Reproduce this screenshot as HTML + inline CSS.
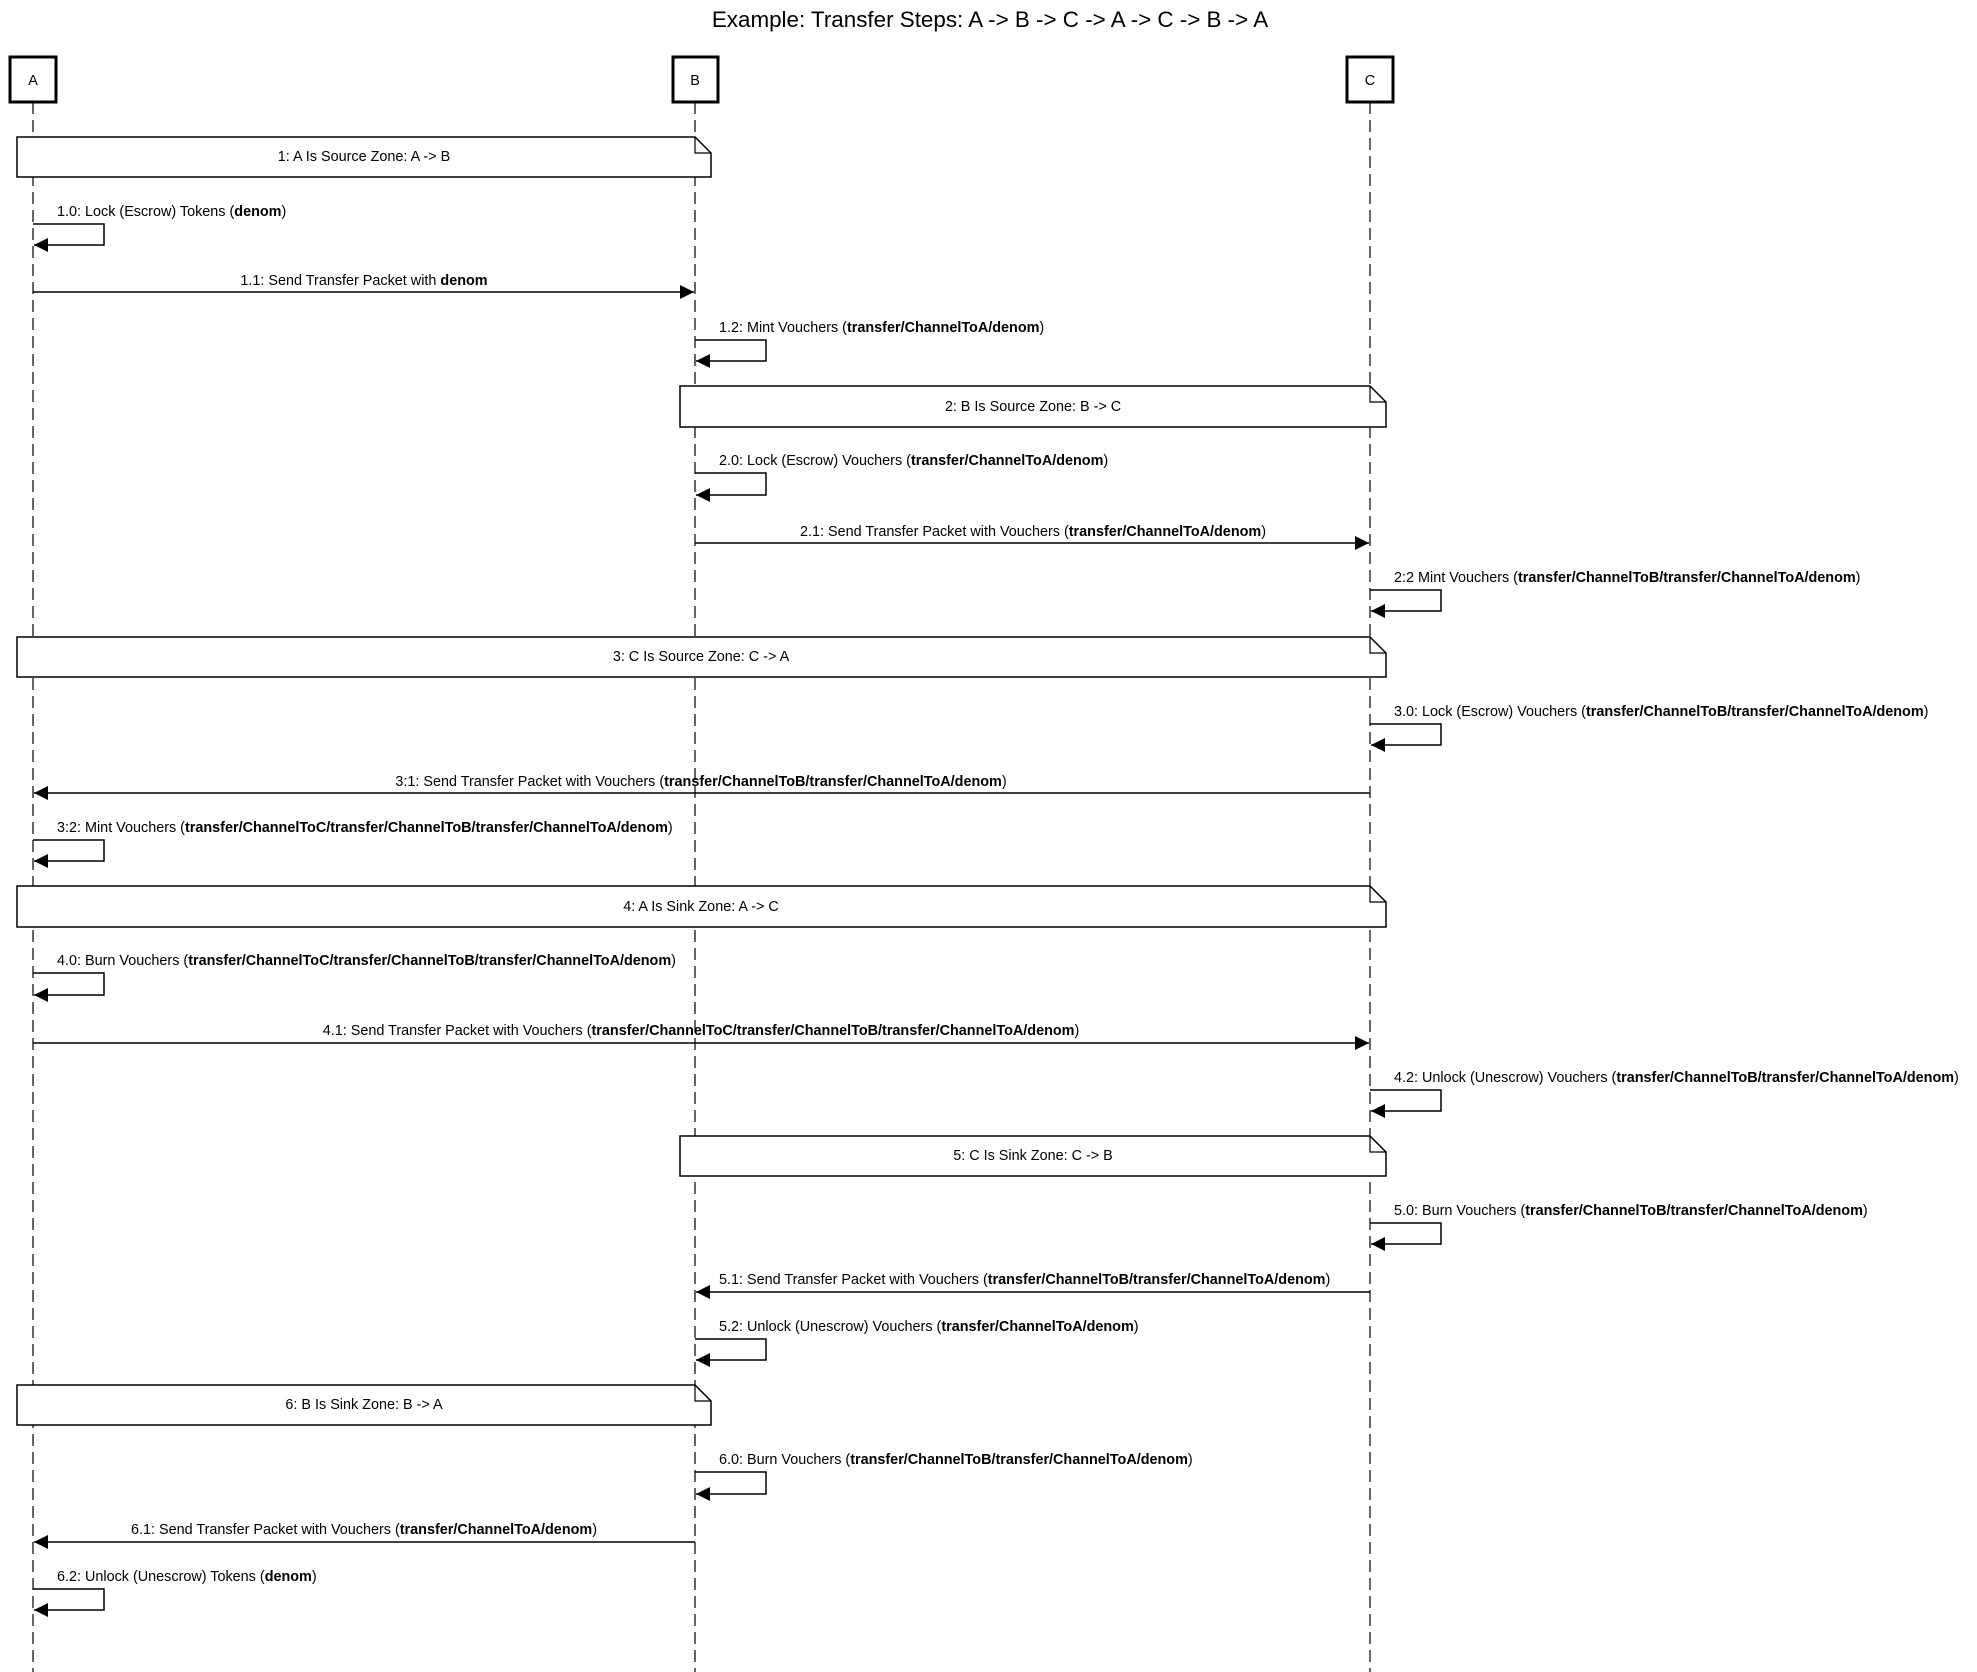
<!DOCTYPE html>
<html><head><meta charset="utf-8"><style>
html,body{margin:0;padding:0;background:#fff}
svg{display:block}
text{font-family:"Liberation Sans",Arial,sans-serif;font-size:14.4px;fill:#000}
.b{font-weight:bold}
</style></head><body>
<svg width="1977" height="1672" viewBox="0 0 1977 1672" xmlns="http://www.w3.org/2000/svg">
<defs>
<marker id="ar" markerWidth="14" markerHeight="14" refX="14" refY="7" orient="auto" markerUnits="userSpaceOnUse">
<path d="M0,0 L14,7 L0,14 Z" fill="#000"/></marker>
</defs>
<text x="990" y="27" text-anchor="middle" style="font-size:22.4px">Example: Transfer Steps: A -&gt; B -&gt; C -&gt; A -&gt; C -&gt; B -&gt; A</text>
<g stroke="#000" stroke-width="1.2" stroke-dasharray="12,6">
<line x1="33" y1="102" x2="33" y2="1672"/>
<line x1="695" y1="102" x2="695" y2="1672"/>
<line x1="1370" y1="102" x2="1370" y2="1672"/>
</g>
<g fill="#fff" stroke="#000" stroke-width="3">
<rect x="10" y="57" width="46" height="45"/>
<rect x="673" y="57" width="45" height="45"/>
<rect x="1347" y="57" width="46" height="45"/>
</g>
<text x="33" y="85" text-anchor="middle">A</text>
<text x="695" y="85" text-anchor="middle">B</text>
<text x="1370" y="85" text-anchor="middle">C</text>

<g fill="#fff" stroke="#000" stroke-width="1.5">
<path d="M17,137 H695 L711,153 V177 H17 Z"/>
<path d="M680,386 H1370 L1386,402 V427 H680 Z"/>
<path d="M17,637 H1370 L1386,653 V677 H17 Z"/>
<path d="M17,886 H1370 L1386,902 V927 H17 Z"/>
<path d="M680,1136 H1370 L1386,1152 V1176 H680 Z"/>
<path d="M17,1385 H695 L711,1401 V1425 H17 Z"/>
</g>
<g fill="none" stroke="#000" stroke-width="1.2">
<path d="M695,137 V153 H711"/><path d="M1370,386 V402 H1386"/><path d="M1370,637 V653 H1386"/>
<path d="M1370,886 V902 H1386"/><path d="M1370,1136 V1152 H1386"/><path d="M695,1385 V1401 H711"/>
</g>
<text x="364" y="161" text-anchor="middle">1: A Is Source Zone: A -&gt; B</text>
<text x="1033" y="411" text-anchor="middle">2: B Is Source Zone: B -&gt; C</text>
<text x="701" y="661" text-anchor="middle">3: C Is Source Zone: C -&gt; A</text>
<text x="701" y="911" text-anchor="middle">4: A Is Sink Zone: A -&gt; C</text>
<text x="1033" y="1160" text-anchor="middle">5: C Is Sink Zone: C -&gt; B</text>
<text x="364" y="1409" text-anchor="middle">6: B Is Sink Zone: B -&gt; A</text>

<g fill="none" stroke="#000" stroke-width="1.5" marker-end="url(#ar)">
<path d="M33,224 H104 V245 H34"/>
<line x1="33" y1="292" x2="694" y2="292"/>
<path d="M695,340 H766 V361 H696"/>
<path d="M695,473 H766 V495 H696"/>
<line x1="695" y1="543" x2="1369" y2="543"/>
<path d="M1370,590 H1441 V611 H1371"/>
<path d="M1370,724 H1441 V745 H1371"/>
<line x1="1370" y1="793" x2="34" y2="793"/>
<path d="M33,840 H104 V861 H34"/>
<path d="M33,973 H104 V995 H34"/>
<line x1="33" y1="1043" x2="1369" y2="1043"/>
<path d="M1370,1090 H1441 V1111 H1371"/>
<path d="M1370,1223 H1441 V1244 H1371"/>
<line x1="1370" y1="1292" x2="696" y2="1292"/>
<path d="M695,1339 H766 V1360 H696"/>
<path d="M695,1472 H766 V1494 H696"/>
<line x1="695" y1="1542" x2="34" y2="1542"/>
<path d="M33,1589 H104 V1610 H34"/>
</g>

<text x="57" y="216">1.0: Lock (Escrow) Tokens (<tspan class="b">denom</tspan>)</text>
<text x="364" y="285" text-anchor="middle">1.1: Send Transfer Packet with <tspan class="b">denom</tspan></text>
<text x="719" y="332">1.2: Mint Vouchers (<tspan class="b">transfer/ChannelToA/denom</tspan>)</text>
<text x="719" y="465">2.0: Lock (Escrow) Vouchers (<tspan class="b">transfer/ChannelToA/denom</tspan>)</text>
<text x="1033" y="536" text-anchor="middle">2.1: Send Transfer Packet with Vouchers (<tspan class="b">transfer/ChannelToA/denom</tspan>)</text>
<text x="1394" y="582">2:2 Mint Vouchers (<tspan class="b">transfer/ChannelToB/transfer/ChannelToA/denom</tspan>)</text>
<text x="1394" y="716">3.0: Lock (Escrow) Vouchers (<tspan class="b">transfer/ChannelToB/transfer/ChannelToA/denom</tspan>)</text>
<text x="701" y="786" text-anchor="middle">3:1: Send Transfer Packet with Vouchers (<tspan class="b">transfer/ChannelToB/transfer/ChannelToA/denom</tspan>)</text>
<text x="57" y="832">3:2: Mint Vouchers (<tspan class="b">transfer/ChannelToC/transfer/ChannelToB/transfer/ChannelToA/denom</tspan>)</text>
<text x="57" y="965">4.0: Burn Vouchers (<tspan class="b">transfer/ChannelToC/transfer/ChannelToB/transfer/ChannelToA/denom</tspan>)</text>
<text x="701" y="1035" text-anchor="middle">4.1: Send Transfer Packet with Vouchers (<tspan class="b">transfer/ChannelToC/transfer/ChannelToB/transfer/ChannelToA/denom</tspan>)</text>
<text x="1394" y="1082">4.2: Unlock (Unescrow) Vouchers (<tspan class="b">transfer/ChannelToB/transfer/ChannelToA/denom</tspan>)</text>
<text x="1394" y="1215">5.0: Burn Vouchers (<tspan class="b">transfer/ChannelToB/transfer/ChannelToA/denom</tspan>)</text>
<text x="719" y="1284">5.1: Send Transfer Packet with Vouchers (<tspan class="b">transfer/ChannelToB/transfer/ChannelToA/denom</tspan>)</text>
<text x="719" y="1331">5.2: Unlock (Unescrow) Vouchers (<tspan class="b">transfer/ChannelToA/denom</tspan>)</text>
<text x="719" y="1464">6.0: Burn Vouchers (<tspan class="b">transfer/ChannelToB/transfer/ChannelToA/denom</tspan>)</text>
<text x="364" y="1534" text-anchor="middle">6.1: Send Transfer Packet with Vouchers (<tspan class="b">transfer/ChannelToA/denom</tspan>)</text>
<text x="57" y="1581">6.2: Unlock (Unescrow) Tokens (<tspan class="b">denom</tspan>)</text>
</svg>
</body></html>
